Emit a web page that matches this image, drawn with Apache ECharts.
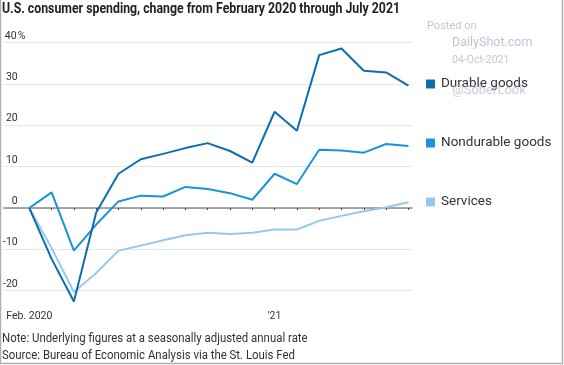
<!DOCTYPE html>
<html><head><meta charset="utf-8">
<script src="https://cdn.jsdelivr.net/npm/echarts@6/dist/echarts.min.js"></script>
<style>html,body{margin:0;padding:0;background:#fff}#c{width:564px;height:365px}</style>
</head><body><div id="c"></div>
<script>
const months = ['Feb. 2020','Mar','Apr','May','Jun','Jul','Aug','Sep','Oct','Nov','Dec',"'21",'Feb','Mar','Apr','May','Jun','Jul'];
const shownLabels = {0:'Feb. 2020', 11:"'21"};
const durable = [0,-12.3,-22.6,-1.1,8.3,11.8,13.1,14.5,15.7,13.8,11.0,23.3,18.7,37.0,38.6,33.2,32.8,29.6];
const nondurable = [0,3.8,-10.3,-4.0,1.6,3.0,2.8,5.1,4.6,3.6,2.0,8.3,5.8,14.1,13.9,13.4,15.5,15.0];
const services = [0,-9.7,-20.3,-15.7,-10.3,-9.1,-7.8,-6.6,-6.0,-6.3,-6.0,-5.2,-5.2,-3.1,-1.9,-0.8,0.2,1.4];

const FONT = "Roboto, sans-serif";
const chart = echarts.init(document.getElementById('c'), null, {renderer:'canvas'});
const names = ['Durable goods','Nondurable goods','Services'];
const colors = ['#0d6ead','#1a93d8','#93caec'];
chart.setOption({
  animation:false,
  textStyle:{fontFamily:FONT},
  legend:{data:names.map((n,i)=>({name:n, icon:'rect', itemStyle:{color:colors[i]}})), orient:'vertical', left:426, top:77,
    itemWidth:9, itemHeight:9, itemGap:45, padding:0, selectedMode:false,
    textStyle:{fontFamily:FONT, fontSize:13.5, color:'#333', padding:[0,0,0,1], lineHeight:14}},
  grid:[
    {left:29.3, right:155.6, top:42.7, bottom:74.3},
    {left:3, right:152, top:42.7, bottom:74.3}
  ],
  xAxis:[
    {type:'category', gridIndex:0, data:months, boundaryGap:false, offset:12,
      axisLine:{show:false}, axisTick:{show:true, interval:0, length:2, lineStyle:{color:'#444'}},
      axisLabel:{interval:0, margin:8, fontSize:10.5, color:'#333', formatter:(v,i)=>shownLabels[i]||''}},
    {type:'category', gridIndex:1, data:['a','b'], boundaryGap:false, axisLine:{show:true, onZero:true, lineStyle:{color:'#8a8a8a', width:1.5}},
      axisTick:{show:false}, axisLabel:{show:false}}
  ],
  yAxis:[
    {type:'value', gridIndex:0, min:-20, max:40, interval:10, show:false, splitLine:{show:false}},
    {type:'value', gridIndex:1, min:-20, max:40, interval:10,
      axisLine:{show:false}, axisTick:{show:false},
      splitLine:{lineStyle:{color:'#e6e6e6', width:1}},
      axisLabel:{inside:true, align:'left', verticalAlign:'bottom', margin:0, padding:[0,0,1,0],
        formatter:v=> '{n|'+v+'}' + (v===40 ? '{p|%}' : ''),
        rich:{n:{fontSize:10.5, color:'#333', fontFamily:FONT, width:14, align:'right'},
              p:{fontSize:10.5, color:'#333', fontFamily:FONT}}}}
  ],
  series:[
    {name:names[0], type:'line', data:durable, xAxisIndex:0, yAxisIndex:0, clip:false, showSymbol:false, symbol:'none',
      lineStyle:{color:colors[0], width:2}, itemStyle:{color:colors[0]}, z:5},
    {name:names[1], type:'line', data:nondurable, xAxisIndex:0, yAxisIndex:0, clip:false, showSymbol:false, symbol:'none',
      lineStyle:{color:colors[1], width:2}, itemStyle:{color:colors[1]}, z:4},
    {name:names[2], type:'line', data:services, xAxisIndex:0, yAxisIndex:0, clip:false, showSymbol:false, symbol:'none',
      lineStyle:{color:colors[2], width:2}, itemStyle:{color:colors[2]}, z:3},
    {type:'line', data:[], xAxisIndex:1, yAxisIndex:1}
  ],
  graphic:[
    {type:'text', x:2, y:2, scaleX:0.82, style:{text:'U.S. consumer spending, change from February 2020 through July 2021', font:"bold 15px "+FONT, fill:'#222', verticalAlign:'top'}},
    {type:'text', x:427, y:21, style:{text:'Posted on', font:"11px "+FONT, fill:'#c6c6d8', verticalAlign:'top'}},
    {type:'text', x:452, y:36, style:{text:'DailyShot.com', font:"12.5px "+FONT, fill:'#c2c2d8', verticalAlign:'top'}},
    {type:'text', x:452, y:55, style:{text:'04-Oct-2021', font:"10.5px "+FONT, fill:'#c6c6d8', verticalAlign:'top'}},
    {type:'text', x:452, y:84, z:10, style:{text:'@SoberLook', font:"13px "+FONT, fill:'rgba(190,190,215,0.8)', verticalAlign:'top'}},
    {type:'text', x:2, y:333, scaleX:0.95, style:{text:'Note: Underlying figures at a seasonally adjusted annual rate', font:"12px "+FONT, fill:'#333', verticalAlign:'top'}},
    {type:'text', x:2, y:350, scaleX:0.95, style:{text:'Source: Bureau of Economic Analysis via the St. Louis Fed', font:"12px "+FONT, fill:'#333', verticalAlign:'top'}},
    {type:'rect', shape:{x:0.5, y:-2, width:562, height:365.5}, style:{fill:'none', stroke:'#b0b0b0', lineWidth:1.5}, silent:true}
  ]
});
</script></body></html>
